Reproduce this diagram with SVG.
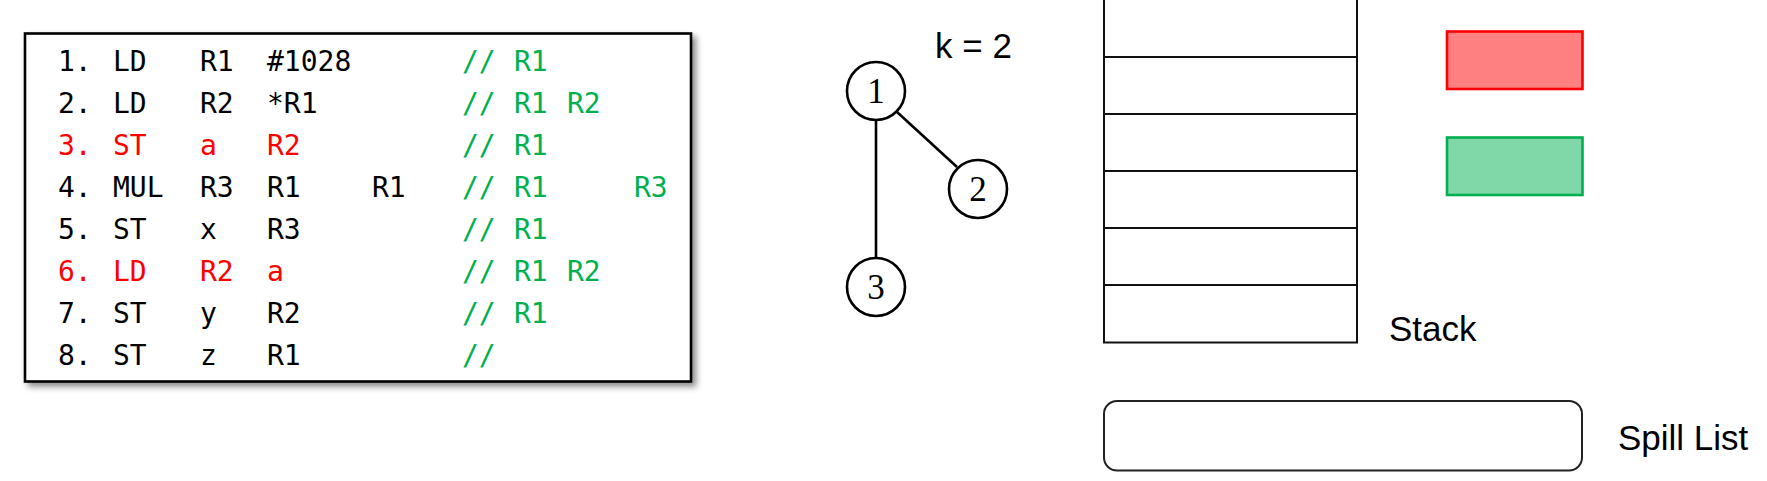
<svg xmlns="http://www.w3.org/2000/svg" width="1767" height="481" viewBox="0 0 1767 481">
<defs>
<filter id="sh" x="-5%" y="-5%" width="115%" height="115%">
<feDropShadow dx="4" dy="4" stdDeviation="3" flood-color="#000" flood-opacity="0.45"/>
</filter>
<style>
.code{font-family:"DejaVu Sans Mono","Liberation Mono",monospace;font-size:28px;fill:#000}
.r{fill:#FF0000}
.g{fill:#00B050}
.node circle{fill:#fff;stroke:#000;stroke-width:2.6}
.node text{font-family:"Liberation Serif",serif;font-size:35px;text-anchor:middle;fill:#000}
.edge{stroke:#000;stroke-width:2.6;fill:none}
.lbl{font-family:"Liberation Sans",Arial,sans-serif;font-size:35px;fill:#000}
.cell{fill:#fff;stroke:#111;stroke-width:2}
</style>
</defs>
<rect width="1767" height="481" fill="#fff"/>

<g id="code">
<rect x="25" y="33.5" width="666" height="348" fill="#fff" stroke="#000" stroke-width="2.6" filter="url(#sh)"/>
<g class="code">
<text y="71"><tspan x="58">1.</tspan><tspan x="113">LD</tspan><tspan x="200">R1</tspan><tspan x="267">#1028</tspan></text>
<text y="113"><tspan x="58">2.</tspan><tspan x="113">LD</tspan><tspan x="200">R2</tspan><tspan x="267">*R1</tspan></text>
<text y="155" class="r"><tspan x="58">3.</tspan><tspan x="113">ST</tspan><tspan x="200">a</tspan><tspan x="267">R2</tspan></text>
<text y="197"><tspan x="58">4.</tspan><tspan x="113">MUL</tspan><tspan x="200">R3</tspan><tspan x="267">R1</tspan><tspan x="372">R1</tspan></text>
<text y="239"><tspan x="58">5.</tspan><tspan x="113">ST</tspan><tspan x="200">x</tspan><tspan x="267">R3</tspan></text>
<text y="281" class="r"><tspan x="58">6.</tspan><tspan x="113">LD</tspan><tspan x="200">R2</tspan><tspan x="267">a</tspan></text>
<text y="323"><tspan x="58">7.</tspan><tspan x="113">ST</tspan><tspan x="200">y</tspan><tspan x="267">R2</tspan></text>
<text y="365"><tspan x="58">8.</tspan><tspan x="113">ST</tspan><tspan x="200">z</tspan><tspan x="267">R1</tspan></text>
</g>
<g class="code g">
<text y="71"><tspan x="462">//</tspan><tspan x="514">R1</tspan></text>
<text y="113"><tspan x="462">//</tspan><tspan x="514">R1</tspan><tspan x="567">R2</tspan></text>
<text y="155"><tspan x="462">//</tspan><tspan x="514">R1</tspan></text>
<text y="197"><tspan x="462">//</tspan><tspan x="514">R1</tspan><tspan x="634">R3</tspan></text>
<text y="239"><tspan x="462">//</tspan><tspan x="514">R1</tspan></text>
<text y="281"><tspan x="462">//</tspan><tspan x="514">R1</tspan><tspan x="567">R2</tspan></text>
<text y="323"><tspan x="462">//</tspan><tspan x="514">R1</tspan></text>
<text y="365"><tspan x="462">//</tspan></text>
</g>
</g>

<text id="k" class="lbl" x="935" y="58">k = 2</text>

<g id="edges">
<line class="edge" x1="876" y1="120" x2="876" y2="258"/>
<line class="edge" x1="897" y1="112" x2="957" y2="167"/>
</g>

<g id="n1" class="node"><circle cx="876" cy="91" r="29"/><text x="876" y="103">1</text></g>
<g id="n2" class="node"><circle cx="978" cy="189" r="29"/><text x="978" y="201">2</text></g>
<g id="n3" class="node"><circle cx="876" cy="287" r="29"/><text x="876" y="299">3</text></g>

<g id="stack">
<rect class="cell" x="1104" y="-10" width="253" height="67"/>
<rect class="cell" x="1104" y="57" width="253" height="57"/>
<rect class="cell" x="1104" y="114" width="253" height="57"/>
<rect class="cell" x="1104" y="171" width="253" height="57"/>
<rect class="cell" x="1104" y="228" width="253" height="57"/>
<rect class="cell" x="1104" y="285" width="253" height="57.5"/>
<text class="lbl" x="1389" y="341">Stack</text>
</g>

<g id="redbox"><rect x="1447" y="31.5" width="135.5" height="57.5" fill="#FF8080" stroke="#FF0000" stroke-width="2.6"/></g>
<g id="greenbox"><rect x="1447" y="137.5" width="135.5" height="57.5" fill="#80D8A8" stroke="#00B050" stroke-width="2.6"/></g>

<g id="spill">
<rect x="1104" y="401" width="478" height="69.5" rx="13" ry="13" fill="#fff" stroke="#222" stroke-width="2"/>
<text class="lbl" x="1618" y="450">Spill List</text>
</g>
</svg>
